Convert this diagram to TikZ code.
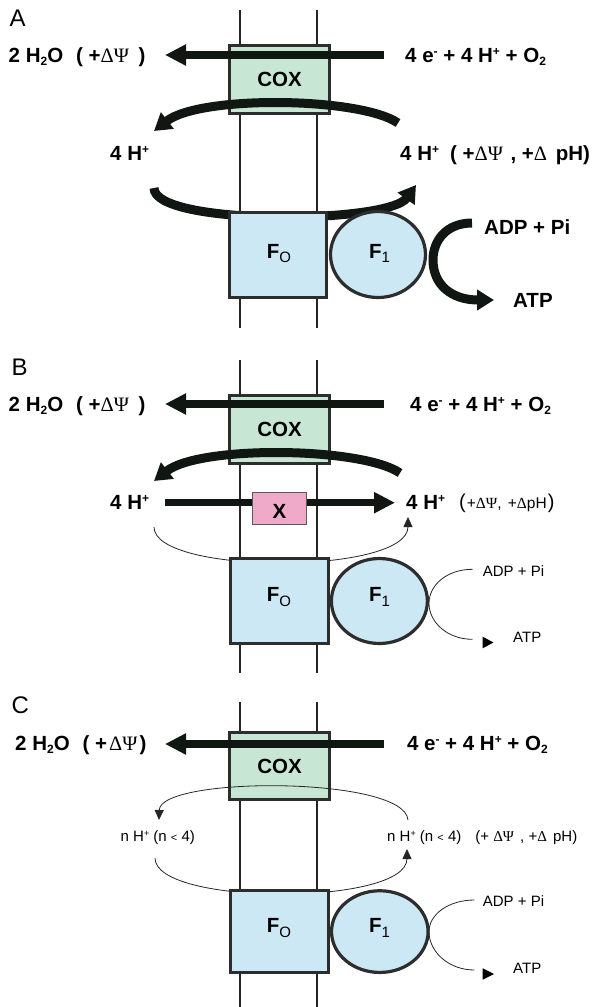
\documentclass[tikz,border=0pt]{standalone}
\usepackage{fontspec}
\setmainfont{Liberation Sans}
\newfontfamily\grkfont{Liberation Serif}
\usetikzlibrary{arrows.meta,shapes.geometric}
\definecolor{coxgreen}{RGB}{200,230,212}
\definecolor{fblue}{RGB}{204,232,244}
\definecolor{xpink}{RGB}{239,169,201}
\definecolor{arrblack}{RGB}{16,22,18}
\definecolor{bordgray}{RGB}{45,45,45}
\newcommand\Bsz{\fontsize{20.5}{22}\selectfont}
\newcommand\Rsz{\fontsize{15}{17}\selectfont}
\newcommand\gk[1]{{\grkfont\mdseries #1}}
\newcommand\bsup[1]{\raisebox{7pt}{\fontsize{12}{12}\selectfont\bfseries #1}}
\newcommand\bsub[1]{\raisebox{-3.5pt}{\fontsize{12}{12}\selectfont\bfseries #1}}
\newcommand\rsup[1]{\raisebox{5.5pt}{\fontsize{9}{9}\selectfont #1}}
\newcommand\fsub[1]{\raisebox{-4.5pt}{\fontsize{15}{15}\selectfont\mdseries #1}}
\begin{document}
\begin{tikzpicture}[x=1pt,y=-1pt,
  mem/.style={line width=1.3pt, draw=black!85},
  coxbox/.style={draw=bordgray, line width=3.2pt, fill=coxgreen, inner sep=0pt, font=\bfseries\Bsz},
  fbox/.style={draw=bordgray, line width=3.2pt, fill=fblue, inner sep=0pt},
  xbox/.style={draw=black!65, line width=1.5pt, fill=xpink, inner sep=0pt},
  thickarr/.style={line width=8.5pt, draw=arrblack, -{Triangle[length=21pt,width=20pt]}},
  thickcurve/.style={line width=9pt, draw=arrblack, -{Triangle[length=17pt,width=20pt]}},
  thinarr/.style={line width=0.8pt, draw=black!85, -{Triangle[length=10pt,width=9pt]}},
  thinline/.style={line width=0.8pt, draw=black!85},
  btext/.style={font=\bfseries\Bsz, inner sep=0pt, anchor=base west},
  rtext/.style={font=\Rsz, inner sep=0pt, anchor=base west},
  ptext/.style={font=\fontsize{24}{26}\selectfont, inner sep=0pt, anchor=base west},
  ftext/.style={font=\bfseries\Bsz, inner sep=0pt, anchor=base}
]
\useasboundingbox (0,0) rectangle (592,1007);

% ================= Panel A =================
\draw[mem] (240,10) -- (240,328);
\draw[mem] (317,10) -- (317,328);
\coordinate (lA1) at (154,188);
\coordinate (lA2) at (416,185);
\draw[thickcurve] (lA1) .. controls (154,226) and (388,224) .. (lA2);
\node[fbox, minimum width=97pt, minimum height=85pt] (FoA) at (278,255) {};
\node[fbox, ellipse, minimum width=95pt, minimum height=86pt] (FiA) at (378,254.5) {};
\node[coxbox, minimum width=100pt, minimum height=68pt] (coxA) at (279.5,79.5) {COX};
\coordinate (tA1) at (384,55);
\coordinate (tA2) at (165,55);
\draw[thickarr] (tA1) -- (tA2);
\coordinate (uA1) at (398,123);
\coordinate (uA2) at (154,131);
\draw[thickcurve] (uA1) .. controls (360,97) and (200,95) .. (uA2);
\coordinate (aA1) at (472,223);
\coordinate (aA2) at (494,300);
\draw[thickcurve] (aA1) .. controls (447,223) and (433,240) .. (433,260) .. controls (433,285) and (452,300) .. (aA2);
\node[ptext] (labA) at (9.5,26.7) {A};
\node[btext] (h2oA) at (8.5,62) {2 H\bsub{2}O\hspace{13pt}( +\gk{ΔΨ}\hspace{4pt} )};
\node[btext] (o2A) at (405,62) {4 e\bsup{-} + 4 H\bsup{+} + O\bsub{2}};
\node[btext] (hlA) at (110,160.7) {4 H\bsup{+}};
\node[btext] (hrA) at (400,160.7) {4 H\bsup{+}\hspace{11pt}( +\gk{ΔΨ}\hspace{2pt} , +\gk{Δ}\hspace{3pt} pH)};
\node[ftext] (foA) at (279,258.3) {F\fsub{O}};
\node[ftext] (fiA) at (379.5,258.3) {F\fsub{1}};
\node[btext] (adpA) at (484,234) {ADP + Pi};
\node[btext] (atpA) at (513,307.5) {ATP};

% ================= Panel B =================
\draw[mem] (240,360) -- (240,673);
\draw[mem] (317,360) -- (317,673);
\coordinate (lB1) at (154,527);
\coordinate (lB2) at (408,517);
\draw[thinarr] (lB1) .. controls (154,575) and (408,575) .. (lB2);
\node[fbox, minimum width=98pt, minimum height=85pt] (FoB) at (279.5,601) {};
\node[fbox, ellipse, minimum width=96pt, minimum height=85pt] (FiB) at (379.4,601) {};
\node[coxbox, minimum width=100pt, minimum height=68pt] (coxB) at (279.5,429.5) {COX};
\coordinate (tB1) at (384,404);
\coordinate (tB2) at (165,404);
\draw[thickarr] (tB1) -- (tB2);
\coordinate (uB1) at (400,473);
\coordinate (uB2) at (154,481);
\draw[thickcurve] (uB1) .. controls (362,447) and (200,445) .. (uB2);
\coordinate (hB1) at (165,502.7);
\coordinate (hB2) at (395,502.7);
\draw[thickarr, line width=7.5pt] (hB1) -- (hB2);
\node[xbox, minimum width=54.4pt, minimum height=32pt] (xB) at (279.5,508.3) {};
\node[ftext] (xtB) at (279.5,518.3) {X};
\coordinate (aB1) at (472.5,569.3);
\coordinate (aB2) at (472.5,639.3);
\draw[thinline] (aB1) .. controls (447,569.3) and (429,585) .. (429,603.3) .. controls (429,622) and (447,639.3) .. (aB2);
\fill[black] (482.7,636.7) -- (493.4,642.5) -- (482.7,648.3) -- cycle;
\node[ptext] (labB) at (11.4,375) {B};
\node[btext] (h2oB) at (8.5,411) {2 H\bsub{2}O\hspace{13pt}( +\gk{ΔΨ}\hspace{4pt} )};
\node[btext] (o2B) at (410,411) {4 e\bsup{-} + 4 H\bsup{+} + O\bsub{2}};
\node[btext] (hlB) at (110,509) {4 H\bsup{+}};
\node[btext] (hrB) at (406,509) {4 H\bsup{+}};
\node[rtext] (dpB) at (459,508.3) {{\fontsize{20}{20}\selectfont(}{\fontsize{15.5}{15.5}\selectfont\hspace{1pt}+\gk{ΔΨ},\hspace{2pt} +\gk{Δ}pH\hspace{1pt}}{\fontsize{20}{20}\selectfont)}};
\node[ftext] (foB) at (279,601.7) {F\fsub{O}};
\node[ftext] (fiB) at (379.5,601.7) {F\fsub{1}};
\node[rtext] (adpB) at (482.7,576) {ADP + Pi};
\node[rtext] (atpB) at (513,642.7) {ATP};

% ================= Panel C =================
\draw[mem] (240,702) -- (240,1007);
\draw[mem] (317,702) -- (317,1007);
\coordinate (lC1) at (155,858);
\coordinate (lC2) at (407,849);
\draw[thinarr] (lC1) .. controls (155,906) and (407,906) .. (lC2);
\node[fbox, minimum width=98pt, minimum height=82pt] (FoC) at (279.5,931.5) {};
\node[fbox, ellipse, minimum width=96.6pt, minimum height=81.7pt] (FiC) at (379.8,931.6) {};
\node[coxbox, minimum width=100pt, minimum height=67pt] (coxC) at (279.5,766) {COX};
\coordinate (tC1) at (384,744);
\coordinate (tC2) at (165,744);
\draw[thickarr, line width=7.7pt] (tC1) -- (tC2);
\coordinate (uC1) at (408,820);
\coordinate (uC2) at (159,820);
\draw[thinarr] (uC1) .. controls (405,776) and (160,776) .. (uC2);
\coordinate (aC1) at (474.4,900);
\coordinate (aC2) at (474.4,970);
\draw[thinline] (aC1) .. controls (449,900) and (429,914) .. (429,931.7) .. controls (429,952) and (449,970) .. (aC2);
\fill[black] (482.7,968.3) -- (494,974) -- (482.7,979.7) -- cycle;
\node[ptext] (labC) at (11.4,713.3) {C};
\node[btext] (h2oC) at (15,750) {2 H\bsub{2}O\hspace{13pt}( +\hspace{2pt}\gk{ΔΨ}\hspace{2pt})};
\node[btext] (o2C) at (406.8,750) {4 e\bsup{-} + 4 H\bsup{+} + O\bsub{2}};
\node[rtext] (hlC) at (120.5,841.7) {n H\rsup{+} (n {\fontsize{11}{11}\selectfont<} 4)};
\node[rtext] (hrC) at (387,841.7) {n H\rsup{+} (n {\fontsize{11}{11}\selectfont<} 4)\hspace{14pt}(+ \gk{ΔΨ}\hspace{2pt} , +\gk{Δ}\hspace{2pt} pH)};
\node[ftext] (foC) at (279,932.7) {F\fsub{O}};
\node[ftext] (fiC) at (379.5,932.7) {F\fsub{1}};
\node[rtext] (adpC) at (482.7,906.7) {ADP + Pi};
\node[rtext] (atpC) at (513,973.3) {ATP};
\end{tikzpicture}
\end{document}
